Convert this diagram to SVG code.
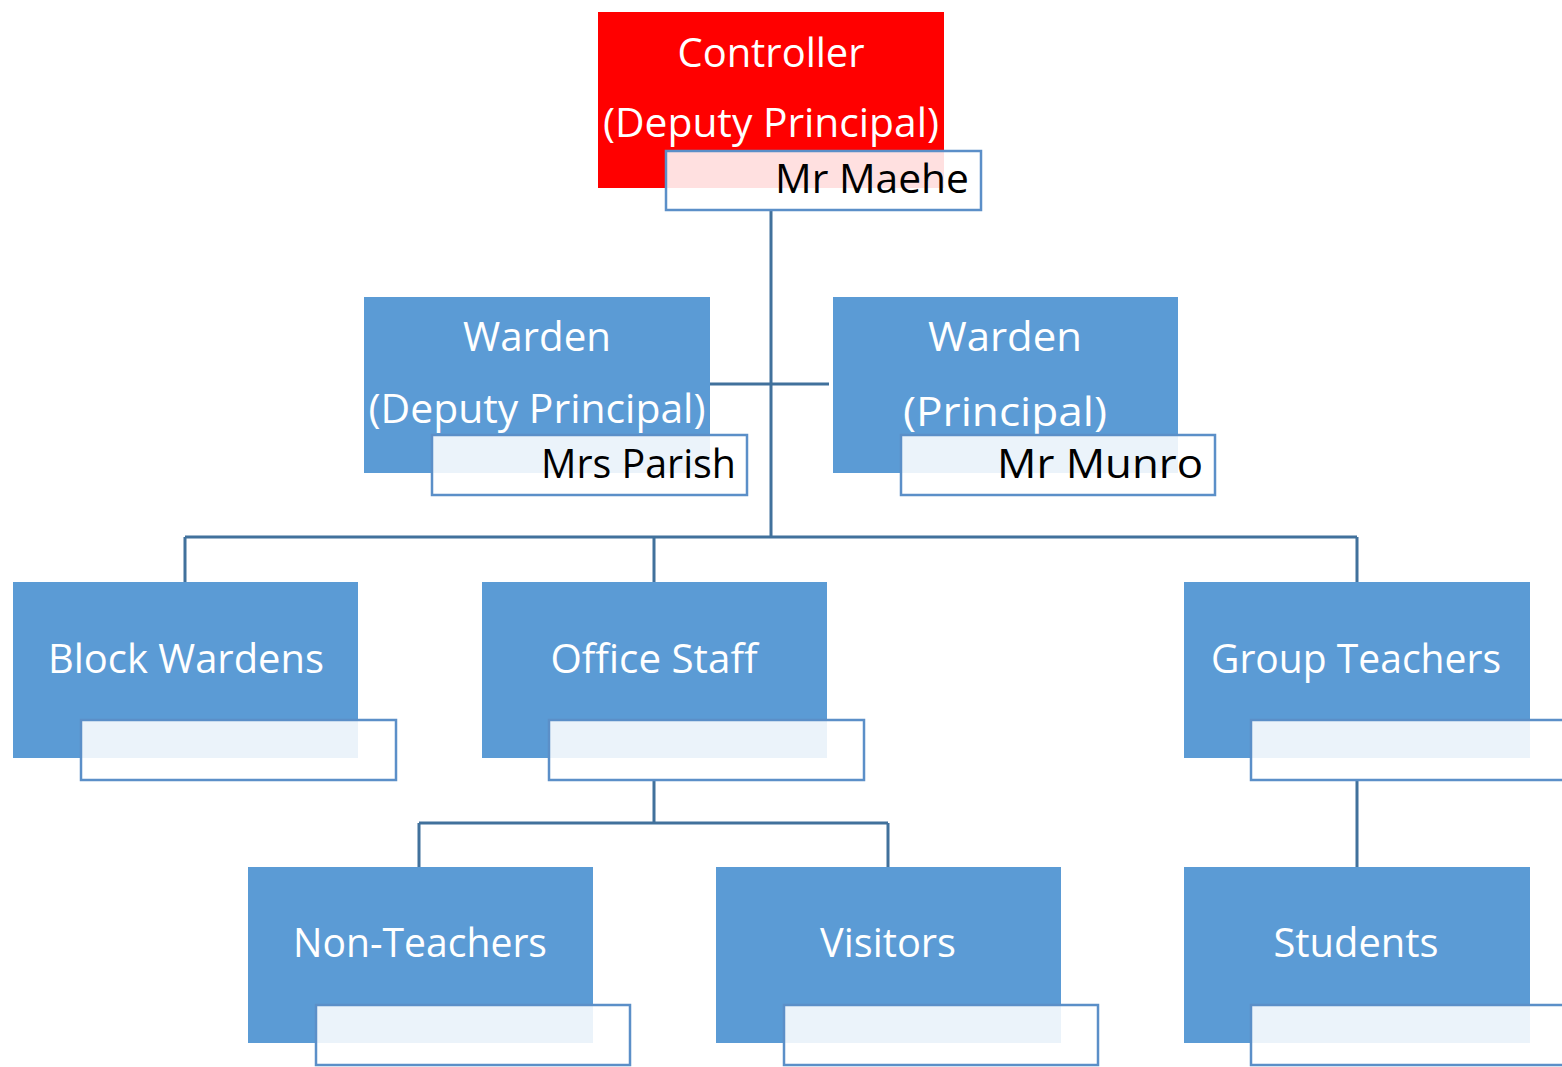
<svg xmlns="http://www.w3.org/2000/svg" width="1562" height="1067" viewBox="0 0 1562 1067">
<style>
.box{fill:#5b9bd5}
.red{fill:#ff0000}
.name{fill:#ffffff;fill-opacity:0.88;stroke:#5b8fc8;stroke-width:2.5}
.t{font-family:"Open Sans","Noto Sans","Liberation Sans",sans-serif;font-size:40px;fill:#ffffff;text-anchor:middle}
.n{font-family:"Open Sans","Noto Sans","Liberation Sans",sans-serif;font-size:40px;fill:#000000;text-anchor:end}
.c{fill:none;stroke:#41719c;stroke-width:3}
</style>
<rect width="1562" height="1067" fill="#ffffff"/>
<g id="connectors">
<path class="c" d="M771 210 V537 M710 384 H829 M185 537 H1357 M185 537 V582 M654 537 V582 M1357 537 V582 M654 780 V823 M419 823 H888 M419 823 V867 M888 823 V867 M1357 780 V867"/>
</g>
<g id="controller">
<rect class="red" x="598" y="12" width="346" height="176"/>
<text class="t" x="771" y="67" textLength="187" lengthAdjust="spacingAndGlyphs">Controller</text>
<text class="t" x="771" y="137" textLength="336" lengthAdjust="spacingAndGlyphs">(Deputy Principal)</text>
<rect class="name" x="666" y="151" width="315" height="59"/>
<text class="n" x="969" y="193" textLength="194" lengthAdjust="spacingAndGlyphs">Mr Maehe</text>
</g>
<g id="warden-deputy">
<rect class="box" x="364" y="297" width="346" height="176"/>
<text class="t" x="537" y="351" textLength="148" lengthAdjust="spacingAndGlyphs">Warden</text>
<text class="t" x="537" y="423" textLength="337" lengthAdjust="spacingAndGlyphs">(Deputy Principal)</text>
<rect class="name" x="432" y="435" width="315" height="60"/>
<text class="n" x="736" y="478" textLength="195" lengthAdjust="spacingAndGlyphs">Mrs Parish</text>
</g>
<g id="warden-principal">
<rect class="box" x="833" y="297" width="345" height="176"/>
<text class="t" x="1005" y="351" textLength="154" lengthAdjust="spacingAndGlyphs">Warden</text>
<text class="t" x="1005" y="426" textLength="204" lengthAdjust="spacingAndGlyphs">(Principal)</text>
<rect class="name" x="901" y="435" width="314" height="60"/>
<text class="n" x="1203" y="478" textLength="206" lengthAdjust="spacingAndGlyphs">Mr Munro</text>
</g>
<g id="block-wardens">
<rect class="box" x="13" y="582" width="345" height="176"/>
<text class="t" x="186" y="673" textLength="276" lengthAdjust="spacingAndGlyphs">Block Wardens</text>
<rect class="name" x="81" y="720" width="315" height="60"/>
</g>
<g id="office-staff">
<rect class="box" x="482" y="582" width="345" height="176"/>
<text class="t" x="654" y="673" textLength="207" lengthAdjust="spacingAndGlyphs">Office Staff</text>
<rect class="name" x="549" y="720" width="315" height="60"/>
</g>
<g id="group-teachers">
<rect class="box" x="1184" y="582" width="346" height="176"/>
<text class="t" x="1356" y="673" textLength="290" lengthAdjust="spacingAndGlyphs">Group Teachers</text>
<rect class="name" x="1251" y="720" width="315" height="60"/>
</g>
<g id="non-teachers">
<rect class="box" x="248" y="867" width="345" height="176"/>
<text class="t" x="420" y="957" textLength="254" lengthAdjust="spacingAndGlyphs">Non-Teachers</text>
<rect class="name" x="316" y="1005" width="314" height="60"/>
</g>
<g id="visitors">
<rect class="box" x="716" y="867" width="345" height="176"/>
<text class="t" x="888" y="957" textLength="136" lengthAdjust="spacingAndGlyphs">Visitors</text>
<rect class="name" x="784" y="1005" width="314" height="60"/>
</g>
<g id="students">
<rect class="box" x="1184" y="867" width="346" height="176"/>
<text class="t" x="1356" y="957" textLength="165" lengthAdjust="spacingAndGlyphs">Students</text>
<rect class="name" x="1251" y="1005" width="315" height="60"/>
</g>
</svg>
